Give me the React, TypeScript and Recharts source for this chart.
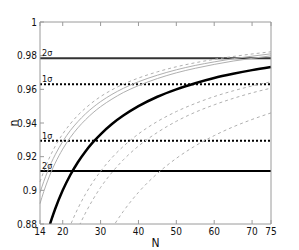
import { LineChart, Line, XAxis, YAxis, ReferenceLine, Label } from "recharts";

// sample points along N
const nValues = [14, 15, 16, 17, 18, 20, 22, 24, 26, 28, 30, 33, 36, 40, 45, 50, 55, 60, 65, 70, 75];

// curves, top to bottom
const upperDashed = [0.905, 0.9113, 0.9169, 0.9218, 0.9261, 0.9335, 0.9395, 0.9446, 0.9488, 0.9525, 0.9557, 0.9597, 0.9631, 0.9667, 0.9704, 0.9734, 0.9758, 0.9778, 0.9795, 0.981, 0.9823];
const upperSolidA = [0.8986, 0.9053, 0.9112, 0.9165, 0.9211, 0.929, 0.9355, 0.9408, 0.9454, 0.9493, 0.9527, 0.957, 0.9606, 0.9645, 0.9684, 0.9716, 0.9742, 0.9763, 0.9782, 0.9797, 0.9811];
const upperSolidB = [0.8921, 0.8993, 0.9056, 0.9112, 0.9161, 0.9245, 0.9314, 0.9371, 0.9419, 0.9461, 0.9497, 0.9542, 0.9581, 0.9622, 0.9664, 0.9698, 0.9725, 0.9748, 0.9768, 0.9784, 0.9799];
const main = [null, 0.8667, 0.875, 0.8824, 0.8889, 0.9, 0.9091, 0.9167, 0.9231, 0.9286, 0.9333, 0.9394, 0.9444, 0.95, 0.9556, 0.96, 0.9636, 0.9667, 0.9692, 0.9714, 0.9733];
const lowerDashedA = [null, null, null, null, null, 0.867, 0.8791, 0.8892, 0.8977, 0.905, 0.9113, 0.9194, 0.9261, 0.9335, 0.9409, 0.9468, 0.9516, 0.9557, 0.9591, 0.962, 0.9645];
const lowerDashedB = [null, null, null, null, null, null, 0.8659, 0.8771, 0.8865, 0.8946, 0.9017, 0.9106, 0.9181, 0.9263, 0.9344, 0.941, 0.9464, 0.9508, 0.9546, 0.9579, 0.9607];
const lowerDashedC = [null, null, null, null, null, null, null, null, null, null, 0.865, 0.8773, 0.8875, 0.8988, 0.91, 0.919, 0.9264, 0.9325, 0.9377, 0.9421, 0.946];

// sigma levels
const sigma2Top = 0.9785;
const sigma1Top = 0.963;
const sigma1Bottom = 0.9295;
const sigma2Bottom = 0.9115;

const xTicks = [14, 20, 30, 40, 50, 60, 70, 75];
const yTicks = [0.88, 0.9, 0.92, 0.94, 0.96, 0.98, 1];

const data = nValues.map((n, i) => ({
  N: n,
  ud: upperDashed[i],
  ua: upperSolidA[i],
  ub: upperSolidB[i],
  m: main[i],
  la: lowerDashedA[i],
  lb: lowerDashedB[i],
  lc: lowerDashedC[i],
}));

const font = "'Liberation Sans Narrow', 'DejaVu Sans Condensed', 'Liberation Sans', sans-serif";
const axisGray = "#9a9a9a";
const curveGray = "#b0b0b0";
const tickStyle = { fontSize: 10, fill: "#111", fontFamily: font };
const blank = () => "";

function sigmaLabel(text: string) {
  return (
    <Label
      value={text}
      position="insideBottomLeft"
      offset={2}
      style={{ fontSize: 9, fill: "#111", fontFamily: font }}
    />
  );
}

export default function App() {
  return (
    <div style={{ position: "absolute", left: 0, top: 0, background: "#fff" }}>
      <LineChart width={299} height={250} data={data} margin={{ top: 12, right: 18, bottom: 0, left: 0 }}>
        <XAxis
          dataKey="N"
          type="number"
          domain={[14, 75]}
          ticks={xTicks}
          interval={0}
          stroke={axisGray}
          tickSize={-4}
          tickMargin={8}
          height={26}
          tick={tickStyle}
        >
          <Label value="N" position="insideBottom" offset={3} style={{ fontSize: 12, fill: "#111", fontFamily: font }} />
        </XAxis>
        <XAxis
          xAxisId="top"
          orientation="top"
          dataKey="N"
          type="number"
          domain={[14, 75]}
          ticks={xTicks}
          interval={0}
          stroke={axisGray}
          tickSize={-4}
          height={10}
          tickFormatter={blank}
        />
        <YAxis
          type="number"
          domain={[0.88, 1]}
          ticks={yTicks}
          interval={0}
          allowDataOverflow
          stroke={axisGray}
          tickSize={-4}
          tickMargin={7}
          width={40}
          tick={tickStyle}
        >
          <Label
            value="n"
            angle={-90}
            position="insideLeft"
            offset={14}
            style={{ fontSize: 12, fill: "#111", fontFamily: font, textAnchor: "middle" }}
          />
        </YAxis>
        <YAxis
          yAxisId="right"
          orientation="right"
          type="number"
          domain={[0.88, 1]}
          ticks={yTicks}
          interval={0}
          stroke={axisGray}
          tickSize={-4}
          width={10}
          tickFormatter={blank}
        />

        <ReferenceLine y={sigma2Top} stroke="#333" strokeWidth={2}>
          {sigmaLabel("2σ")}
        </ReferenceLine>
        <ReferenceLine y={sigma1Top} stroke="#000" strokeWidth={2} strokeDasharray="2 2">
          {sigmaLabel("1σ")}
        </ReferenceLine>
        <ReferenceLine y={sigma1Bottom} stroke="#000" strokeWidth={2} strokeDasharray="2 2">
          {sigmaLabel("1σ")}
        </ReferenceLine>
        <ReferenceLine y={sigma2Bottom} stroke="#000" strokeWidth={2}>
          {sigmaLabel("2σ")}
        </ReferenceLine>

        <Line type="monotone" dataKey="ud" stroke={curveGray} strokeWidth={1} strokeDasharray="3 3" dot={false} isAnimationActive={false} />
        <Line type="monotone" dataKey="ua" stroke={curveGray} strokeWidth={1} dot={false} isAnimationActive={false} />
        <Line type="monotone" dataKey="ub" stroke={curveGray} strokeWidth={1} dot={false} isAnimationActive={false} />
        <Line type="monotone" dataKey="la" stroke={curveGray} strokeWidth={1} strokeDasharray="3 3" dot={false} isAnimationActive={false} />
        <Line type="monotone" dataKey="lb" stroke={curveGray} strokeWidth={1} strokeDasharray="3 3" dot={false} isAnimationActive={false} />
        <Line type="monotone" dataKey="lc" stroke={curveGray} strokeWidth={1} strokeDasharray="3 3" dot={false} isAnimationActive={false} />
        <Line type="monotone" dataKey="m" stroke="#000" strokeWidth={2.5} dot={false} isAnimationActive={false} />
      </LineChart>
    </div>
  );
}
